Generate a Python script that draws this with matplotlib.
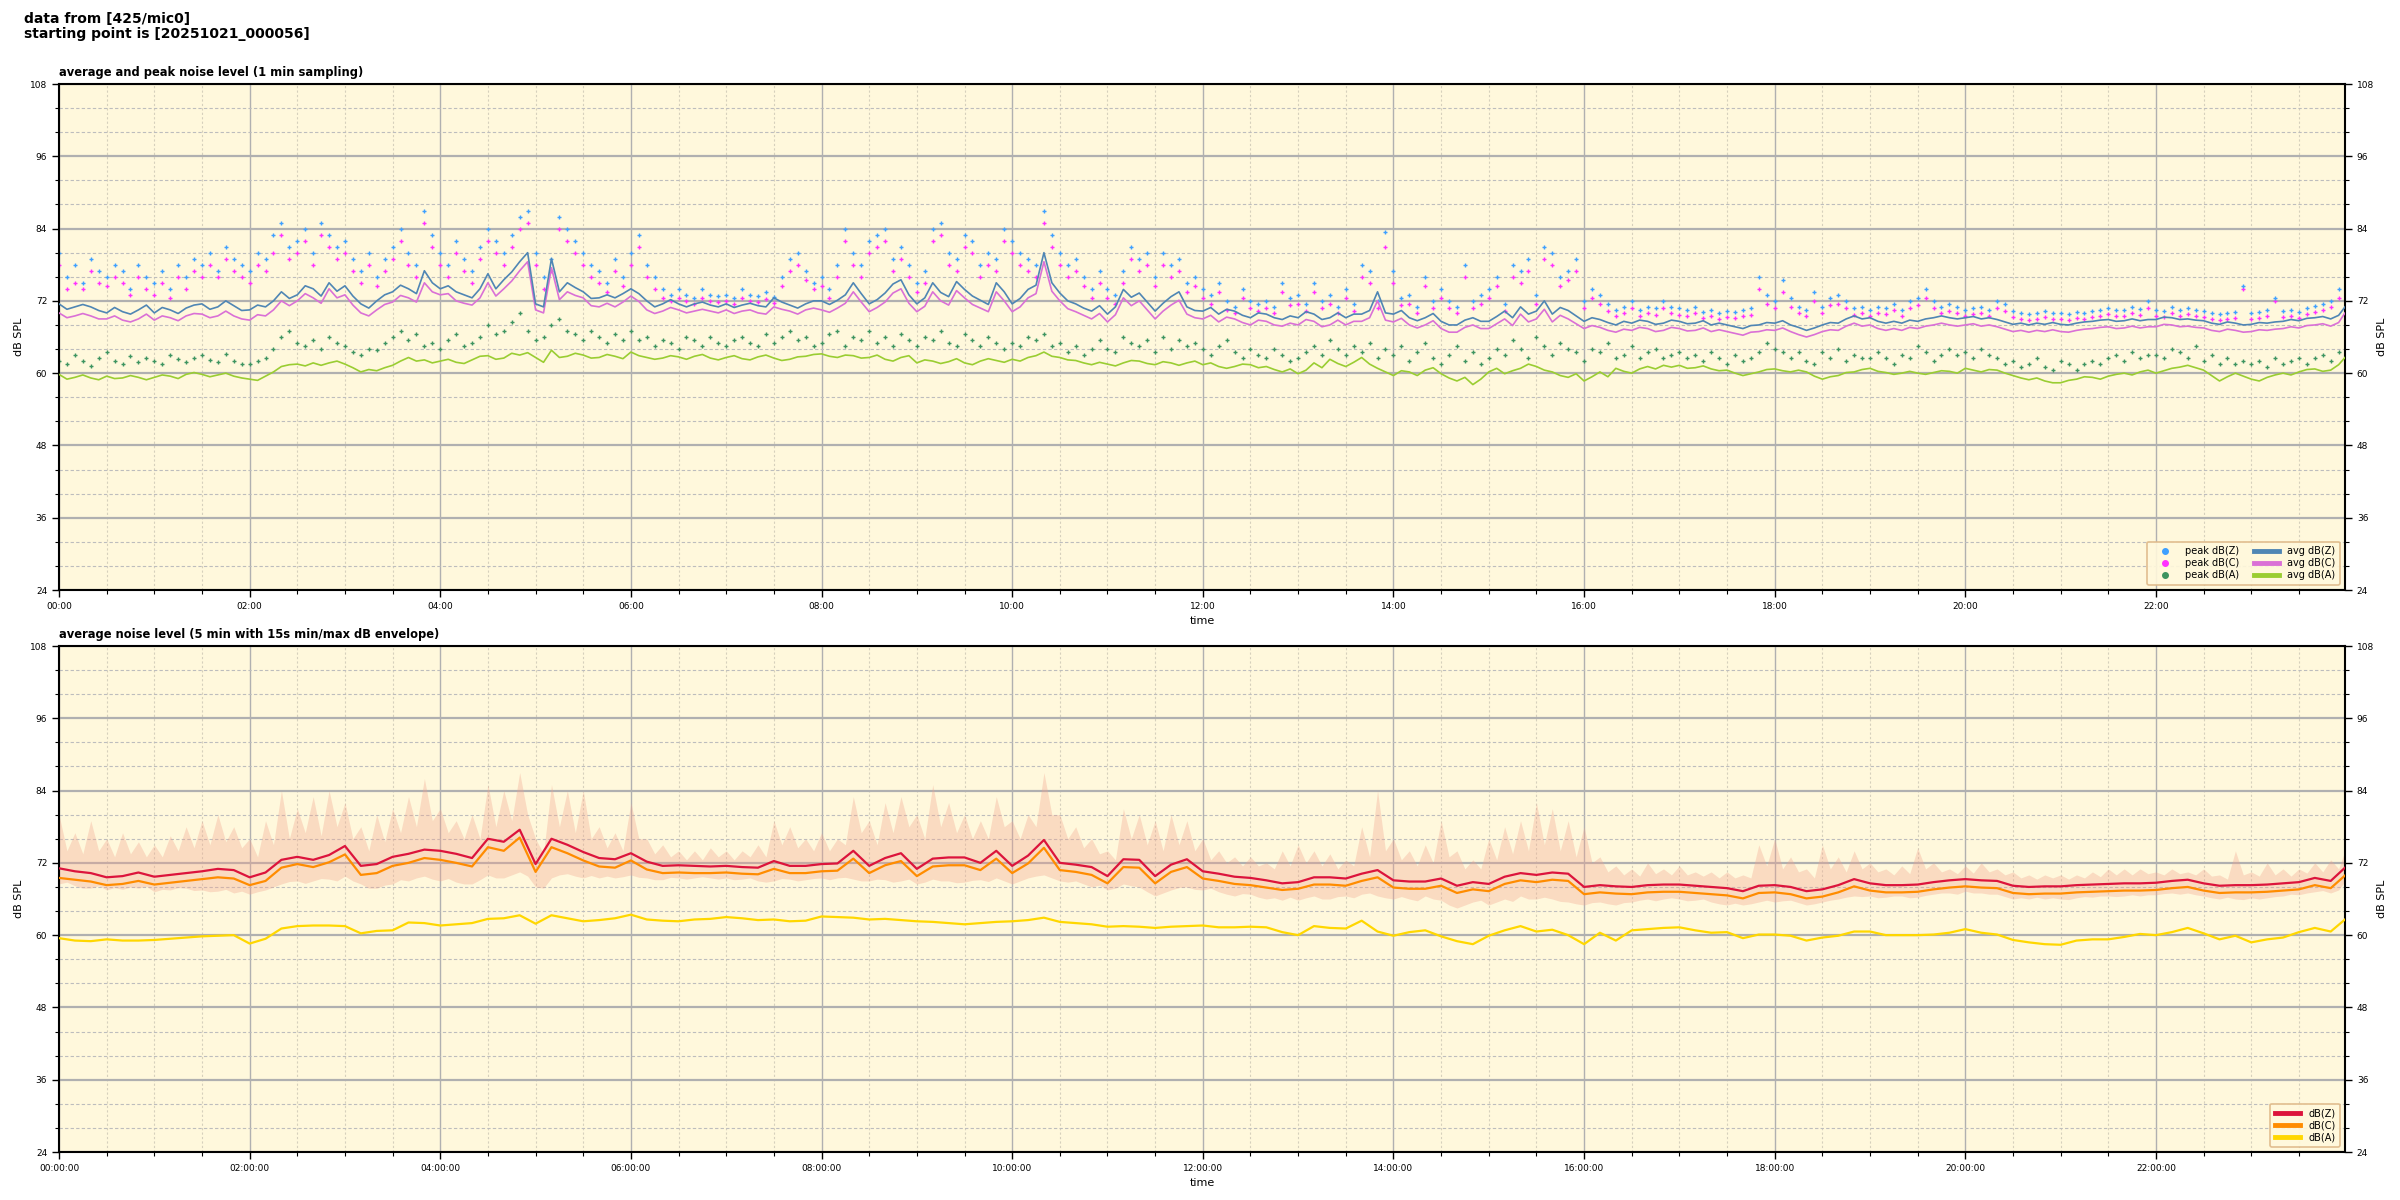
import numpy as np
import matplotlib
matplotlib.use("Agg")
import matplotlib.pyplot as plt
from matplotlib.ticker import MultipleLocator, FuncFormatter
from matplotlib.lines import Line2D

# ---------------- data: top panel averages (5-min resolution, last value at 23:59) ----------------
avg_z = [71.5, 70.6, 71.0, 71.4, 71.0, 70.4, 70.0, 70.9, 70.2, 69.8, 70.5, 71.3,
         70.0, 70.9, 70.5, 69.9, 70.8, 71.3, 71.5, 70.6, 71.0, 72.0, 71.2, 70.4,
         70.5, 71.3, 71.0, 72.0, 73.5, 72.4, 73.0, 74.5, 74.0, 72.8, 75.0, 73.6,
         74.5, 72.8, 71.5, 70.8, 72.0, 73.0, 73.5, 74.6, 74.0, 73.2, 77.0, 75.0,
         74.0, 74.5, 73.5, 73.0, 72.5, 74.0, 76.5, 74.0, 75.5, 76.8, 78.5, 80.0,
         71.5, 71.0, 79.0, 73.5, 75.0, 74.2, 73.5, 72.4, 72.5, 73.0, 72.5, 73.2,
         74.0, 73.2, 72.0, 71.0, 71.5, 72.2, 71.5, 71.0, 71.5, 71.8, 71.3, 71.0,
         71.5, 70.9, 71.3, 71.6, 71.2, 71.0, 72.5, 71.8, 71.3, 70.8, 71.5, 72.0,
         72.0, 71.4, 72.1, 73.0, 75.0, 73.2, 71.5, 72.2, 73.3, 74.8, 75.5, 73.0,
         71.5, 72.5, 75.0, 73.4, 72.7, 75.2, 73.9, 72.8, 72.1, 71.4, 75.0, 73.5,
         71.5, 72.4, 73.9, 74.6, 80.0, 75.0, 73.3, 72.0, 71.5, 70.8, 70.3, 71.2,
         69.8, 71.0, 73.9, 72.6, 73.3, 71.8, 70.3, 71.6, 72.7, 73.5, 71.0, 70.4,
         70.3, 70.9, 69.8, 70.6, 70.3, 69.6, 69.2, 70.0, 69.8, 69.2, 68.9, 69.5,
         69.2, 70.2, 69.8, 68.9, 69.2, 70.0, 69.2, 69.8, 69.8, 70.4, 73.5, 70.0,
         69.8, 70.4, 69.2, 68.7, 69.2, 69.9, 68.6, 68.0, 68.0, 68.8, 69.2, 68.6,
         68.6, 69.4, 70.3, 69.2, 71.0, 69.8, 70.3, 72.0, 69.8, 70.9, 70.4, 69.5,
         68.6, 69.2, 68.9, 68.4, 68.0, 68.6, 68.3, 68.8, 68.6, 68.1, 68.3, 68.8,
         68.6, 68.2, 68.3, 68.7, 68.0, 68.3, 68.0, 67.7, 67.4, 67.9, 68.0, 68.4,
         68.3, 68.7, 68.0, 67.6, 67.1, 67.5, 68.0, 68.4, 68.3, 69.0, 69.5, 69.0,
         69.2, 68.6, 68.3, 68.6, 68.3, 68.8, 68.6, 69.0, 69.2, 69.5, 69.2, 69.0,
         69.2, 69.4, 69.0, 69.2, 68.9, 68.5, 68.1, 68.3, 68.0, 68.3, 68.1, 68.4,
         68.1, 68.0, 68.3, 68.5, 68.6, 68.8, 68.9, 68.6, 68.7, 69.0, 68.7, 68.9,
         68.9, 69.3, 69.2, 68.9, 69.0, 68.8, 68.7, 68.3, 68.1, 68.5, 68.3, 68.0,
         68.1, 68.4, 68.3, 68.5, 68.6, 68.9, 68.7, 69.1, 69.2, 69.4, 69.0, 69.6, 71.0]

avg_c = [70.0, 69.2, 69.5, 69.9, 69.5, 69.0, 69.0, 69.5, 68.8, 68.5, 69.0, 69.8,
         68.8, 69.5, 69.2, 68.7, 69.5, 69.9, 69.8, 69.2, 69.5, 70.3, 69.5, 69.0,
         68.8, 69.7, 69.5, 70.5, 72.0, 71.2, 72.0, 73.2, 72.5, 71.6, 74.0, 72.5,
         73.0, 71.3, 70.0, 69.5, 70.5, 71.4, 71.8, 72.9, 72.5, 71.8, 75.0, 73.5,
         73.0, 73.2, 72.0, 71.6, 71.3, 72.5, 75.0, 72.8, 74.0, 75.3, 77.0, 78.5,
         70.5, 70.0, 77.5, 72.2, 73.5, 72.9, 72.5, 71.2, 71.0, 71.6, 71.0, 71.8,
         72.8, 71.9, 70.5, 69.9, 70.3, 70.9, 70.5, 70.0, 70.3, 70.6, 70.3, 70.0,
         70.5, 69.9, 70.3, 70.5, 70.0, 69.8, 71.0, 70.6, 70.3, 69.8, 70.5, 70.8,
         70.5, 70.1, 70.8, 71.6, 73.5, 71.8, 70.2, 70.9, 71.8, 73.3, 74.0, 71.6,
         70.2, 71.1, 73.5, 72.0, 71.3, 73.7, 72.5, 71.4, 70.8, 70.2, 73.5, 72.0,
         70.2, 71.0, 72.5, 73.2, 78.5, 73.6, 72.0, 70.7, 70.2, 69.6, 69.0, 69.9,
         68.5, 69.7, 72.5, 71.2, 72.0, 70.5, 69.0, 70.3, 71.3, 72.1, 69.8, 69.2,
         69.0, 69.6, 68.5, 69.3, 69.0, 68.4, 68.0, 68.8, 68.6, 68.0, 67.8, 68.3,
         68.0, 68.9, 68.6, 67.7, 68.0, 68.8, 68.0, 68.6, 68.6, 69.2, 72.0, 68.8,
         68.5, 69.1, 68.0, 67.5, 68.0, 68.7, 67.4, 66.8, 66.8, 67.6, 68.0, 67.4,
         67.4, 68.2, 69.0, 67.9, 69.8, 68.5, 69.0, 70.6, 68.5, 69.6, 69.0, 68.2,
         67.4, 67.9, 67.6, 67.1, 66.8, 67.3, 67.1, 67.6, 67.4, 66.9, 67.1, 67.6,
         67.4, 67.0, 67.1, 67.5, 66.9, 67.2, 66.9, 66.6, 66.3, 66.8, 66.9, 67.2,
         67.1, 67.5, 66.9, 66.4, 66.0, 66.4, 66.9, 67.2, 67.1, 67.8, 68.3, 67.8,
         68.0, 67.4, 67.1, 67.4, 67.1, 67.6, 67.4, 67.8, 68.0, 68.3, 68.0, 67.8,
         68.0, 68.2, 67.8, 68.0, 67.7, 67.3, 66.9, 67.1, 66.8, 67.1, 66.9, 67.2,
         66.9, 66.8, 67.1, 67.3, 67.4, 67.6, 67.7, 67.4, 67.5, 67.8, 67.5, 67.7,
         67.7, 68.1, 68.0, 67.7, 67.8, 67.6, 67.5, 67.1, 66.9, 67.3, 67.1, 66.8,
         66.9, 67.2, 67.1, 67.3, 67.4, 67.7, 67.5, 67.9, 68.0, 68.2, 67.8, 68.4, 70.0]

avg_a = [59.8, 59.0, 59.3, 59.7, 59.2, 58.9, 59.5, 59.1, 59.2, 59.6, 59.3, 58.9,
         59.3, 59.7, 59.5, 59.1, 59.8, 60.1, 59.8, 59.4, 59.7, 60.0, 59.5, 59.2,
         59.0, 58.8, 59.5, 60.2, 61.1, 61.4, 61.5, 61.2, 61.7, 61.3, 61.7, 62.0,
         61.5, 60.9, 60.2, 60.6, 60.4, 60.9, 61.3, 62.0, 62.6, 62.0, 62.2, 61.7,
         62.0, 62.3, 61.8, 61.6, 62.2, 62.8, 62.9, 62.3, 62.5, 63.3, 63.0, 63.4,
         62.6, 61.8, 63.8, 62.6, 62.8, 63.3, 63.0, 62.5, 62.6, 63.1, 62.8, 62.4,
         63.5, 62.9, 62.6, 62.3, 62.5, 62.9, 62.7, 62.3, 62.8, 63.1, 62.5, 62.2,
         62.6, 62.9, 62.4, 62.2, 62.7, 63.0, 62.5, 62.1, 62.3, 62.7, 62.8, 63.1,
         63.2, 62.8, 62.6, 63.0, 62.9, 62.5, 62.6, 63.0, 62.3, 62.0, 62.6, 62.9,
         61.7, 62.2, 62.0, 61.6, 61.9, 62.4, 61.7, 61.4, 62.0, 62.4, 62.1, 61.8,
         62.3, 62.0, 62.6, 62.9, 63.5, 62.8, 62.6, 62.2, 62.1, 61.7, 61.4, 61.8,
         61.5, 61.2, 61.7, 62.1, 62.0, 61.6, 61.4, 61.9, 61.7, 61.3, 61.7, 62.0,
         61.4, 61.7, 61.1, 60.8, 61.1, 61.5, 61.4, 60.9, 61.1, 60.6, 60.2, 60.7,
         59.9, 60.5, 61.7, 60.9, 62.3, 61.6, 61.1, 61.8, 62.6, 61.5, 60.8, 60.2,
         59.6, 60.4, 60.2, 59.6, 60.5, 60.9, 59.9, 59.2, 58.7, 59.3, 58.1, 59.0,
         60.2, 60.8, 59.9, 60.4, 60.8, 61.5, 61.1, 60.5, 60.2, 59.6, 59.3, 59.9,
         58.7, 59.4, 60.2, 59.4, 60.8, 60.3, 60.0, 60.7, 61.1, 60.7, 61.3, 61.0,
         61.3, 60.8, 60.9, 61.2, 60.7, 60.4, 60.5, 60.0, 59.6, 59.9, 60.2, 60.6,
         60.7, 60.4, 60.2, 60.5, 60.2, 59.5, 59.0, 59.4, 59.6, 60.1, 60.2, 60.6,
         60.8, 60.3, 60.1, 59.8, 60.0, 60.3, 60.0, 59.8, 60.1, 60.4, 60.3, 60.0,
         60.8, 60.5, 60.2, 60.6, 60.5, 60.0, 59.6, 59.2, 58.9, 59.2, 58.7, 58.4,
         58.4, 58.8, 59.0, 59.4, 59.3, 59.0, 59.5, 59.8, 60.0, 59.7, 60.2, 60.5,
         60.0, 60.4, 60.8, 61.0, 61.3, 60.9, 60.5, 59.6, 58.7, 59.4, 60.0, 59.5,
         59.0, 58.7, 59.3, 59.7, 60.0, 59.7, 60.2, 60.6, 60.7, 60.3, 60.5, 61.4, 62.6]

# peaks (5-min resolution)
peak_z = [80, 76, 78, 75, 79, 77, 76, 78, 77, 74, 78, 76,
          75, 77, 74, 78, 76, 79, 78, 80, 77, 81, 79, 78,
          77, 80, 79, 83, 85, 81, 82, 84, 80, 85, 83, 81,
          82, 79, 77, 80, 76, 79, 81, 84, 80, 78, 87, 83,
          80, 78, 82, 79, 77, 81, 84, 82, 80, 83, 86, 87,
          80, 76, 79, 86, 84, 82, 80, 78, 77, 75, 79, 76,
          80, 83, 78, 76, 74, 73, 74, 73, 72.5, 74, 73, 72.8,
          73, 72.5, 74, 73, 72.8, 73.5, 72.6, 76, 79, 80, 77, 75,
          76, 74, 78, 84, 80, 78, 82, 83, 84, 79, 81, 78,
          75, 77, 84, 85, 80, 79, 83, 82, 78, 80, 79, 84,
          82, 80, 79, 78, 87, 83, 80, 78, 79, 76, 74, 77,
          74, 73, 77, 81, 79, 80, 76, 80, 78, 79, 75, 76,
          74, 73, 75, 72, 71, 74, 72, 71.5, 72, 71, 75, 72.5,
          73, 71.5, 75, 72, 73, 71, 74, 71.5, 78, 77, 72, 83.5,
          77, 72.5, 73, 71, 76, 72, 74, 72, 71, 78, 72, 73,
          74, 76, 71.5, 78, 77, 79, 73, 81, 80, 76, 77, 79,
          72, 74, 73, 71.5, 70.5, 71, 72, 70.5, 71, 70.8, 72, 71,
          70.8, 70.5, 71, 70.2, 70.5, 70, 70.3, 70.2, 70.5, 70.8, 76, 73,
          72, 75.5, 72.5, 71, 70.5, 73.5, 71, 72.5, 73, 72, 70.8, 71,
          70.5, 71, 70.8, 71.5, 70.5, 72, 72.5, 74, 72, 71, 71.5, 71,
          70.5, 70.8, 71, 70.5, 72, 71.5, 70.3, 70, 69.8, 70, 70.3, 70,
          70, 69.8, 70.2, 70, 70.3, 70.5, 70.8, 70.5, 70.5, 71, 70.6, 72.0,
          70.5, 70.3, 71, 70.5, 70.8, 70.5, 70.3, 70, 69.8, 70, 70.2, 74.5,
          70, 70.2, 70.5, 72.5, 70.3, 70.5, 70.2, 70.8, 71.2, 71.5, 72, 74]

peak_c = [78, 74, 75, 74, 77, 75, 74.5, 76, 75, 73, 76, 74,
          73, 75, 72.5, 76, 74, 77, 76, 78, 76, 79, 77, 76,
          75, 78, 77, 80, 83, 79, 80, 82, 78, 83, 81, 79,
          80, 77, 75, 78, 74.5, 77, 79, 82, 78, 76, 85, 81,
          78, 76, 80, 77, 75, 79, 82, 80, 78, 81, 84, 85,
          78, 74, 77, 84, 82, 80, 78, 76, 75, 73.5, 77, 74.5,
          78, 81, 76, 74, 72.5, 72, 72.5, 72, 71.5, 72.5, 72, 71.8,
          72, 71.5, 72.5, 72, 71.8, 72.3, 71.6, 74.5, 77, 78, 75.5, 74,
          74.5, 72.5, 76, 82, 78, 76, 80, 81, 82, 77, 79, 76,
          73.5, 75, 82, 83, 78, 77, 81, 80, 76, 78, 77, 82,
          80, 78, 77, 76, 85, 81, 78, 76, 77, 74.5, 72.5, 75,
          72.5, 71.5, 75, 79, 77, 78, 74.5, 78, 76, 77, 73.5, 74.5,
          72.5, 71.5, 73.5, 70.5, 70, 72.5, 70.8, 70.3, 70.8, 70, 73.5, 71.3,
          71.5, 70.3, 73.5, 70.8, 71.5, 70, 72.5, 70.3, 76, 75, 70.8, 81,
          75, 71.3, 71.5, 70, 74.5, 70.8, 72.5, 70.8, 70, 76, 70.8, 71.5,
          72.5, 74.5, 70.3, 76, 75, 77, 71.5, 79, 78, 74.5, 75.5, 77,
          70.8, 72.5, 71.5, 70.3, 69.5, 70, 70.8, 69.5, 70, 69.7, 70.8, 70,
          69.7, 69.5, 70, 69.2, 69.5, 69, 69.3, 69.2, 69.5, 69.7, 74, 71.5,
          70.8, 73.5, 71, 70, 69.5, 72, 70, 71.3, 71.5, 70.8, 69.7, 70,
          69.5, 70, 69.8, 70.5, 69.5, 70.8, 71.3, 72.5, 70.8, 70, 70.3, 70,
          69.5, 69.8, 70, 69.5, 70.8, 70.3, 69.3, 69, 68.8, 69, 69.3, 69,
          69, 68.8, 69.2, 69, 69.3, 69.5, 69.8, 69.5, 69.5, 70, 69.6, 70.8,
          69.5, 69.3, 70, 69.5, 69.8, 69.5, 69.3, 69, 68.8, 69, 69.2, 74.0,
          69, 69.2, 69.5, 72, 69.3, 69.5, 69.2, 69.8, 70.2, 70.5, 71, 72.5]

peak_a = [62, 61.5, 63, 62, 61.2, 62.5, 63.5, 62, 61.5, 62.8, 61.8, 62.5,
          62, 61.5, 63, 62.3, 61.8, 62.5, 63, 62.2, 61.8, 63.2, 62, 61.5,
          61.5, 62, 62.5, 64, 66, 67, 65, 64.5, 65.5, 64, 66, 65,
          64.5, 63.5, 63, 64, 63.8, 65, 66, 67, 65.5, 66.5, 64.5, 65,
          64, 65.5, 66.5, 64.5, 65, 66, 68, 66.5, 67, 68.5, 70, 67,
          65.5, 66, 68, 69, 67, 66.5, 65.5, 67, 66, 65, 66.5, 65.5,
          67, 65.5, 66, 64.5, 65.5, 65, 64, 66, 65.5, 64.5, 66, 65,
          64.5, 65.5, 66, 65, 64.5, 66.5, 65, 66, 67, 65.5, 66, 64.5,
          65, 66.5, 67, 64.5, 66, 65.5, 67, 65, 66, 64.5, 66.5, 65.5,
          64.5, 66, 65.5, 67, 65, 64.5, 66.5, 65.5, 64.5, 66, 65, 64,
          65, 64.5, 66, 65.5, 66.5, 64.5, 65, 63.5, 64.5, 63, 64, 65.5,
          64, 63.5, 66, 65, 64.5, 65.5, 63.5, 66, 64, 65.5, 64.5, 65,
          64, 63, 64.5, 65.5, 63.5, 62.5, 64, 63, 62.5, 64, 63, 62,
          62.5, 63.5, 64.5, 63, 65.5, 64, 63, 64.5, 63.5, 65, 62.5, 64,
          63, 64.5, 62, 63.5, 65, 62.5, 61.5, 63, 64.5, 62, 63.5, 61.5,
          62.5, 64, 63, 65.5, 64, 62.5, 66, 64.5, 63, 65, 64, 63.5,
          62, 64, 63.5, 65, 62.5, 63, 64.5, 62.5, 63.5, 64, 62.5, 63,
          63.5, 62.5, 63, 62, 63.5, 62.5, 61.5, 63, 62, 62.5, 63.5, 65,
          64, 63.5, 62.5, 63.5, 62, 61.5, 63.5, 62.5, 64, 62, 63, 62.5,
          62.5, 63.5, 62.5, 61.5, 63, 62.5, 64.5, 63.5, 62, 63, 64, 63,
          63.5, 62.5, 64, 63, 62.5, 61.5, 62, 61, 61.5, 62.5, 61, 60.5,
          62, 61.5, 60.5, 61.5, 62, 61.5, 62.5, 63, 62, 63.5, 62.5, 63,
          63, 62.5, 64, 63.5, 62.5, 64.5, 62, 63, 61.5, 62.5, 61.5, 62,
          61.5, 62, 61, 62.5, 61.5, 62, 62.5, 61.5, 62.5, 63, 62, 63.5]

# bottom panel: 5-min averages (sampled every 10 min, last at 23:59)
low_z = [71.1, 70.6, 70.3, 69.6, 69.8, 70.4,
         69.7, 70.0, 70.3, 70.6, 71.0, 70.8,
         69.6, 70.4, 72.5, 73.0, 72.5, 73.3,
         74.8, 71.5, 71.8, 73.0, 73.5, 74.2,
         74.0, 73.5, 72.8, 76.0, 75.5, 77.5,
         71.8, 76.0, 75.0, 73.8, 72.8, 72.6,
         73.6, 72.2, 71.5, 71.6, 71.5, 71.4,
         71.5, 71.3, 71.2, 72.3, 71.5, 71.5,
         71.8, 71.9, 74.0, 71.5, 72.8, 73.6,
         71.0, 72.7, 72.9, 72.9, 72.0, 74.0,
         71.5, 73.2, 75.8, 72.0, 71.7, 71.3,
         69.8, 72.6, 72.5, 69.8, 71.7, 72.6,
         70.6, 70.2, 69.7, 69.5, 69.1, 68.6,
         68.8, 69.6, 69.6, 69.4, 70.2, 70.8,
         69.1, 68.9, 68.9, 69.4, 68.2, 68.8,
         68.5, 69.7, 70.3, 70.0, 70.4, 70.2,
         68.0, 68.3, 68.1, 68.0, 68.3, 68.4,
         68.4, 68.2, 68.0, 67.8, 67.3, 68.2,
         68.3, 68.0, 67.3, 67.6, 68.3, 69.3,
         68.6, 68.3, 68.3, 68.4, 68.8, 69.1,
         69.3, 69.1, 69.0, 68.2, 68.0, 68.1,
         68.1, 68.3, 68.4, 68.5, 68.6, 68.6,
         68.7, 69.0, 69.2, 68.6, 68.2, 68.3,
         68.3, 68.4, 68.6, 68.8, 69.5, 69.0, 71.2]

low_c = [69.5, 69.2, 68.9, 68.3, 68.5, 69.0,
         68.4, 68.7, 69.0, 69.3, 69.6, 69.4,
         68.3, 69.0, 71.2, 71.8, 71.3, 72.1,
         73.4, 70.0, 70.3, 71.5, 72.0, 72.8,
         72.5, 72.0, 71.4, 74.6, 74.0, 76.2,
         70.5, 74.6, 73.6, 72.4, 71.4, 71.2,
         72.4, 70.9, 70.3, 70.4, 70.3, 70.3,
         70.4, 70.2, 70.1, 71.0, 70.3, 70.3,
         70.6, 70.7, 72.7, 70.3, 71.6, 72.3,
         69.8, 71.4, 71.6, 71.6, 70.8, 72.7,
         70.3, 71.9, 74.5, 70.8, 70.5, 70.0,
         68.6, 71.3, 71.2, 68.6, 70.5, 71.3,
         69.4, 69.0, 68.5, 68.3, 67.9, 67.5,
         67.7, 68.4, 68.4, 68.2, 69.0, 69.6,
         67.9, 67.7, 67.7, 68.2, 67.0, 67.6,
         67.3, 68.5, 69.1, 68.8, 69.2, 69.0,
         66.8, 67.1, 66.9, 66.8, 67.1, 67.2,
         67.2, 67.0, 66.8, 66.6, 66.1, 67.0,
         67.1, 66.8, 66.1, 66.4, 67.1, 68.1,
         67.4, 67.1, 67.1, 67.2, 67.6, 67.9,
         68.1, 67.9, 67.8, 67.0, 66.8, 66.9,
         66.9, 67.1, 67.2, 67.3, 67.4, 67.4,
         67.5, 67.8, 68.0, 67.4, 67.0, 67.1,
         67.1, 67.2, 67.4, 67.6, 68.3, 67.8, 69.9]

low_a = [59.5, 59.1, 59.0, 59.3, 59.1, 59.1,
         59.2, 59.4, 59.6, 59.8, 59.9, 60.0,
         58.6, 59.4, 61.1, 61.5, 61.6, 61.6,
         61.5, 60.3, 60.7, 60.8, 62.1, 62.0,
         61.6, 61.8, 62.0, 62.7, 62.8, 63.3,
         61.9, 63.3, 62.8, 62.3, 62.5, 62.8,
         63.4, 62.6, 62.4, 62.3, 62.6, 62.7,
         63.0, 62.8, 62.5, 62.6, 62.3, 62.4,
         63.1, 63.0, 62.9, 62.6, 62.7, 62.5,
         62.3, 62.2, 62.0, 61.8, 62.0, 62.2,
         62.3, 62.5, 62.9, 62.2, 62.0, 61.8,
         61.4, 61.5, 61.4, 61.2, 61.4, 61.5,
         61.6, 61.3, 61.3, 61.4, 61.3, 60.5,
         60.0, 61.5, 61.2, 61.1, 62.4, 60.6,
         59.9, 60.5, 60.8, 59.8, 59.0, 58.5,
         59.9, 60.8, 61.5, 60.6, 60.9, 60.0,
         58.5, 60.4, 59.1, 60.8, 61.0, 61.2,
         61.3, 60.8, 60.4, 60.5, 59.5, 60.1,
         60.1, 59.9, 59.1, 59.6, 59.9, 60.6,
         60.6, 60.0, 60.0, 60.0, 60.1, 60.4,
         61.0, 60.4, 60.1, 59.2, 58.8, 58.5,
         58.4, 59.1, 59.3, 59.3, 59.7, 60.2,
         60.0, 60.5, 61.2, 60.3, 59.3, 59.9,
         58.8, 59.3, 59.6, 60.5, 61.2, 60.6, 62.6]

# 15 s min/max envelope (5-min resolution, last at 23:59)
env_max = [80, 74, 77, 73.5, 79, 74, 76, 73, 77, 73.5, 75.5, 73,
           75, 73, 76.5, 74, 78, 74.5, 79, 75, 80, 75.5, 78, 74.5,
           76, 73, 79, 75, 84, 76, 81, 77, 83, 76.5, 84, 78,
           82, 76, 78, 74, 80, 75.5, 81, 77, 83, 78, 86, 79,
           81, 77, 79, 76, 80, 76, 85, 78, 84, 79, 87, 80,
           76, 73.5, 85, 78, 84, 77, 84, 76, 78, 74.5, 77, 74,
           82, 76, 76, 73.5, 75, 73, 74, 72.5, 74, 72.5, 74.5, 73,
           74, 72.5, 74, 73, 75, 73, 79, 75, 78, 74.5, 76, 74,
           77, 74, 76, 75, 83, 77, 79, 75, 82, 77, 83, 78,
           80, 76, 85, 78, 82, 77, 80, 76, 79, 76, 83, 78,
           79, 76, 80, 78, 87, 80, 80, 76, 78, 74.5, 76, 73.5,
           74, 72.5, 81, 76, 80, 75, 79, 74, 80, 75, 79, 74,
           76, 72.5, 74, 72, 73, 71.5, 73, 71.5, 72, 71, 74, 71.5,
           75, 72, 74, 71.5, 73.5, 71, 72.5, 71.5, 78, 73, 84, 74,
           76, 72.5, 74, 71.5, 75, 72, 79, 73, 74, 71, 72.5, 71,
           76, 72.5, 78, 73.5, 79, 74, 82, 75, 81, 74, 79, 73,
           78, 72, 73, 70.5, 71.5, 70, 71, 69.8, 72, 70.2, 71, 70,
           71.5, 70, 70.5, 69.8, 70.5, 69.5, 70.5, 69.5, 70, 69.5, 75, 71.5,
           76, 71, 73, 70.5, 71, 69.5, 75, 71, 73, 70.5, 74, 71,
           72, 70.5, 71, 70, 71.5, 70.2, 74.5, 71, 72, 70.5, 71, 70.2,
           71.5, 70.3, 72, 70.5, 71, 70, 70.5, 69.5, 70, 69.3, 70, 69.5,
           70, 69.3, 70, 69.5, 70.5, 69.7, 71, 70, 71, 70, 71, 70.2,
           70.5, 70, 71, 70.2, 70.5, 70, 71, 69.8, 70, 69.3, 74, 70,
           70.5, 69.8, 72, 70, 71, 69.8, 71, 70.3, 72, 70.5, 72.5, 71, 74]

env_min = [68.5, 68.8, 68.2, 67.8, 67.8, 68.2, 67.5, 67.9, 67.6, 68.0, 67.8, 68.1,
           67.2, 67.6, 67.5, 67.9, 67.8, 67.4, 67.5, 67.2, 67.3, 67.6, 67.0, 67.3,
           66.8, 67.2, 67.5, 68.0, 68.5, 68.9, 69.0, 68.6, 69.0, 69.4, 69.3, 69.0,
           69.8, 69.0, 68.5, 67.8, 67.8, 68.3, 68.5, 69.2, 69.0, 69.5, 69.8, 69.3,
           69.0, 69.4, 68.8, 68.5, 68.5, 69.2, 70.0, 69.5, 69.5, 70.0, 70.5, 69.8,
           68.0, 67.8, 69.5, 70.0, 70.2, 69.8, 69.5, 69.9, 69.5, 69.8, 69.5, 69.7,
           70.0, 69.6, 69.5, 69.2, 69.2, 69.6, 69.5, 69.3, 69.5, 69.7, 69.5, 69.3,
           69.5, 69.2, 69.3, 69.5, 69.0, 68.8, 69.0, 69.4, 69.3, 69.0, 69.2, 69.4,
           69.5, 69.2, 69.5, 69.6, 69.3, 69.0, 69.0, 69.3, 69.2, 68.8, 69.0, 69.3,
           68.5, 68.8, 69.3, 69.0, 69.0, 68.7, 68.8, 69.1, 69.2, 68.9, 69.5, 69.0,
           68.5, 69.0, 69.5, 69.8, 70.0, 69.5, 69.0, 68.8, 69.0, 68.5, 68.0, 68.3,
           67.5, 67.8, 68.5, 68.2, 68.0, 67.2, 66.5, 67.0, 67.5, 67.9, 68.0, 67.6,
           67.5, 67.8, 67.2, 66.8, 66.5, 66.9, 66.8, 66.3, 66.0, 66.2, 65.8, 66.3,
           65.8, 66.2, 66.5, 66.0, 66.0, 66.4, 66.5, 66.2, 66.8, 67.0, 66.5, 66.2,
           66.0, 66.4, 66.0, 65.7, 66.5, 66.0, 65.8, 65.0, 64.5, 65.0, 65.5, 65.8,
           65.0, 65.5, 66.0, 65.6, 66.5, 66.0, 66.0, 66.3, 66.0, 65.6, 65.5, 65.2,
           65.0, 65.4, 65.5, 65.2, 65.0, 65.4, 65.5, 65.8, 66.0, 65.7, 66.0, 66.2,
           66.0, 65.7, 65.8, 66.0, 65.5, 65.2, 65.0, 65.3, 65.0, 65.2, 65.5, 65.8,
           65.5, 65.7, 65.8, 65.4, 65.0, 65.2, 65.5, 65.8, 66.0, 66.3, 66.5, 66.4,
           66.5, 66.2, 66.3, 66.5, 66.5, 66.2, 66.3, 66.6, 66.8, 67.0, 67.0, 66.8,
           67.3, 67.0, 67.0, 66.8, 66.8, 66.4, 66.0, 66.2, 66.0, 66.3, 66.0, 66.2,
           66.0, 65.9, 66.2, 66.4, 66.3, 66.5, 66.5, 66.4, 66.5, 66.7, 66.5, 66.7,
           66.7, 66.9, 67.0, 66.8, 67.0, 66.7, 66.5, 66.2, 66.0, 66.3, 66.0, 65.9,
           66.2, 66.0, 66.2, 66.4, 66.5, 66.8, 66.7, 67.0, 67.2, 67.4, 67.0, 67.5, 69.0]

# time axes (minutes after midnight)
t5e = np.append(np.arange(0, 1440, 5), 1439)   # 5-min + final sample
t10e = np.append(np.arange(0, 1440, 10), 1439)  # 10-min + final sample
t5 = np.arange(0, 1440, 5)

# ---------------- figure ----------------
BG = "#fff8dc"
fig = plt.figure(figsize=(24, 12), dpi=100)
fig.text(24 / 2400, 1 - 12 / 1200, "data from [425/mic0]\nstarting point is [20251021_000056]",
         fontsize=10, fontweight="bold", va="top", ha="left", linespacing=1.1)

ax1 = fig.add_axes([59 / 2400, 1 - 590 / 1200, 2286 / 2400, 506 / 1200])
ax2 = fig.add_axes([59 / 2400, 1 - 1152 / 1200, 2286 / 2400, 506 / 1200])


def fmt_hm(x, pos):
    m = int(round(x))
    return f"{m // 60:02d}:{m % 60:02d}"


def fmt_hms(x, pos):
    m = int(round(x))
    return f"{m // 60:02d}:{m % 60:02d}:00"


def style_axes(ax, fmt):
    ax.set_facecolor(BG)
    ax.set_xlim(0, 1439)
    ax.set_ylim(24, 108)
    ax.xaxis.set_major_locator(MultipleLocator(120))
    ax.xaxis.set_minor_locator(MultipleLocator(30))
    ax.xaxis.set_major_formatter(FuncFormatter(fmt))
    ax.yaxis.set_major_locator(MultipleLocator(12))
    ax.yaxis.set_minor_locator(MultipleLocator(4))
    ax.grid(which="major", axis="y", color="#b0b0b0", lw=1.6, ls="-", zorder=0)
    ax.grid(which="major", axis="x", color="#b0b0b0", lw=1.0, ls="-", zorder=0)
    ax.grid(which="minor", axis="y", color="#bdbdbd", lw=0.8, ls=(0, (3, 2)), zorder=0)
    ax.grid(which="minor", axis="x", color="#d6d0bc", lw=0.8, ls=(0, (2, 2)), zorder=0)
    ax.set_axisbelow(True)
    ax.tick_params(which="both", direction="out", labelsize=6.5,
                   left=True, right=True, labelleft=True, labelright=True)
    ax.tick_params(which="major", length=5, width=1)
    ax.tick_params(which="minor", length=3, width=0.8)
    for s in ax.spines.values():
        s.set_linewidth(1.5)
        s.set_color("black")
    ax.set_xlabel("time", fontsize=8)
    ax.set_ylabel("dB SPL", fontsize=8)
    sec = ax.secondary_yaxis("right")
    sec.tick_params(labelright=False, right=False)
    sec.spines["right"].set_visible(False)
    sec.set_ylabel("dB SPL", fontsize=8, labelpad=23)


style_axes(ax1, fmt_hm)
style_axes(ax2, fmt_hms)

# ---- top panel ----
ax1.set_title("average and peak noise level (1 min sampling)", loc="left",
              fontsize=8.3, fontweight="bold", pad=6)
ax1.plot(t5, peak_a, ls="none", marker="+", ms=3.5, mew=1.0, color="#3d9460", zorder=2)
ax1.plot(t5, peak_c, ls="none", marker="+", ms=3.5, mew=1.0, color="#ff30ff", zorder=2)
ax1.plot(t5, peak_z, ls="none", marker="+", ms=3.5, mew=1.0, color="#3ea0ff", zorder=2)
ax1.plot(t5e, avg_a, color="#9acd32", lw=1.2, zorder=3)
ax1.plot(t5e, avg_c, color="#da70d6", lw=1.2, zorder=3)
ax1.plot(t5e, avg_z, color="#4f86b4", lw=1.2, zorder=3)

h_top = [Line2D([], [], ls="none", marker="o", ms=4, color="#3ea0ff"),
         Line2D([], [], ls="none", marker="o", ms=4, color="#ff30ff"),
         Line2D([], [], ls="none", marker="o", ms=4, color="#3d9460"),
         Line2D([], [], color="#4f86b4", lw=3.5),
         Line2D([], [], color="#da70d6", lw=3.5),
         Line2D([], [], color="#9acd32", lw=3.5)]
l_top = ["peak dB(Z)", "peak dB(C)", "peak dB(A)", "avg dB(Z)", "avg dB(C)", "avg dB(A)"]
leg1 = ax1.legend(h_top, l_top, loc="lower right", ncol=2, fontsize=7, frameon=True,
                  facecolor=BG, edgecolor="#deb887", framealpha=0.9,
                  handlelength=2.6, columnspacing=1.5, labelspacing=0.2, borderpad=0.5)
leg1.get_frame().set_linewidth(1.2)

# ---- bottom panel ----
ax2.set_title("average noise level (5 min with 15s min/max dB envelope)", loc="left",
              fontsize=8.3, fontweight="bold", pad=6)
ax2.fill_between(t5e, env_min, env_max, color="#f2a48e", alpha=0.34, lw=0, zorder=2)
ax2.plot(t10e, low_a, color="#ffd700", lw=1.6, zorder=3)
ax2.plot(t10e, low_c, color="#ff8c00", lw=1.6, zorder=3)
ax2.plot(t10e, low_z, color="#dc143c", lw=1.6, zorder=3)

h_bot = [Line2D([], [], color="#dc143c", lw=3.5),
         Line2D([], [], color="#ff8c00", lw=3.5),
         Line2D([], [], color="#ffd700", lw=3.5)]
leg2 = ax2.legend(h_bot, ["dB(Z)", "dB(C)", "dB(A)"], loc="lower right", fontsize=7,
                  frameon=True, facecolor=BG, edgecolor="#deb887", framealpha=0.9,
                  handlelength=2.6, labelspacing=0.2, borderpad=0.5)
leg2.get_frame().set_linewidth(1.2)

fig.savefig("out.png", dpi=100)
